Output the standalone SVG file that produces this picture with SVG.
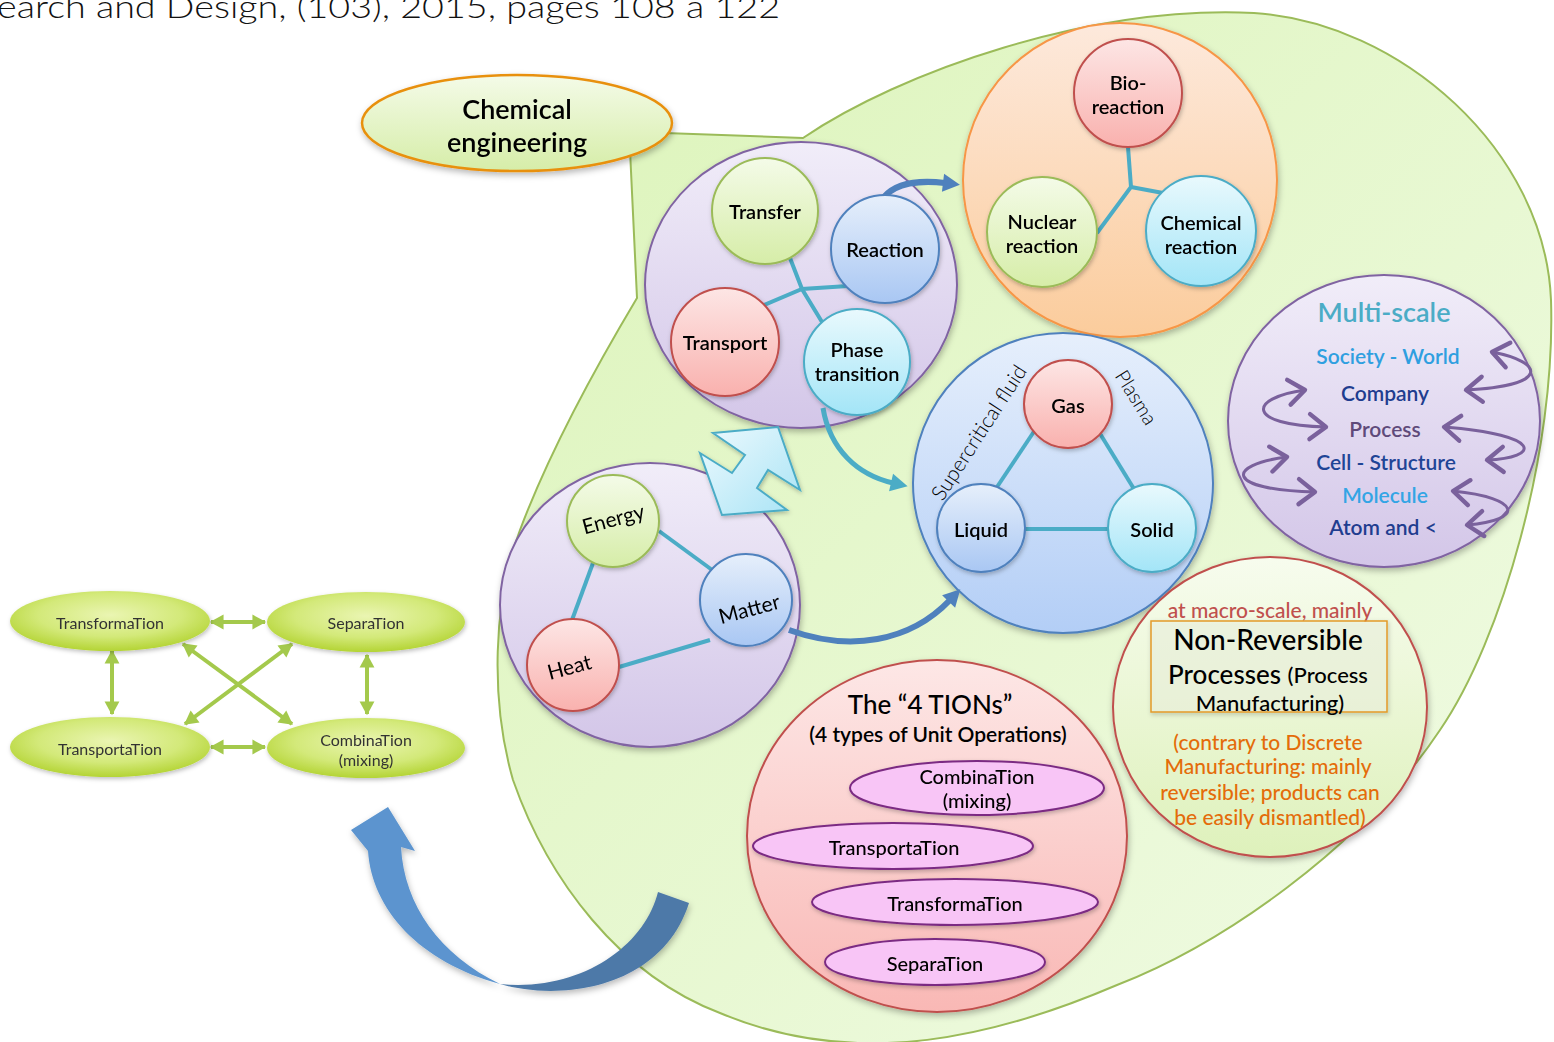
<svg xmlns="http://www.w3.org/2000/svg" width="1554" height="1042" viewBox="0 0 1554 1042">
  <defs>
    <style>
      .t { font-family: Lato, "Noto Sans", "Liberation Sans", sans-serif; text-anchor: middle; dominant-baseline: central; fill: #000; font-weight: 600; }
      .lbl { font-size: 20px; }
      .ms { font-size: 21px; }
      .small { font-size: 16px; fill: #333; font-weight: 400; }
      .orng { font-size: 21px; fill: #e46c0a; font-weight: 500; }
      .link { fill: none; stroke: #4bacc6; stroke-width: 4; }
      .scale-arrow { fill: none; stroke: #7a619c; stroke-width: 3; marker-start: url(#chev); marker-end: url(#chev); }
      .grn-arrow { fill: none; stroke: #a4c94c; stroke-width: 4; marker-start: url(#gHead); marker-end: url(#gHead); }
      .pill { fill: #f8c5f6; stroke: #7b2c83; stroke-width: 2; }
    </style>
    <filter id="sh" x="-20%" y="-20%" width="140%" height="140%">
      <feDropShadow dx="1" dy="3" stdDeviation="3" flood-color="#000" flood-opacity="0.28"/>
    </filter>
    <filter id="shs" x="-20%" y="-20%" width="140%" height="140%">
      <feDropShadow dx="1" dy="2" stdDeviation="2" flood-color="#000" flood-opacity="0.25"/>
    </filter>
    <linearGradient id="gBlob" x1="0" y1="0" x2="1" y2="1">
      <stop offset="0" stop-color="#dcf4b9"/>
      <stop offset="1" stop-color="#f1fbe6"/>
    </linearGradient>
    <linearGradient id="gGreen" x1="0" y1="0" x2="0" y2="1">
      <stop offset="0" stop-color="#f4fbe8"/>
      <stop offset="1" stop-color="#d6eda8"/>
    </linearGradient>
    <linearGradient id="gRed" x1="0" y1="0" x2="0" y2="1">
      <stop offset="0" stop-color="#fde6e5"/>
      <stop offset="1" stop-color="#f9b1ae"/>
    </linearGradient>
    <linearGradient id="gBlue" x1="0" y1="0" x2="0" y2="1">
      <stop offset="0" stop-color="#e6effb"/>
      <stop offset="1" stop-color="#a9c7f3"/>
    </linearGradient>
    <linearGradient id="gCyan" x1="0" y1="0" x2="0" y2="1">
      <stop offset="0" stop-color="#e9f9fd"/>
      <stop offset="1" stop-color="#a3e5f7"/>
    </linearGradient>
    <linearGradient id="gPurple" x1="0" y1="0" x2="0" y2="1">
      <stop offset="0" stop-color="#f1edf9"/>
      <stop offset="1" stop-color="#d3c6e8"/>
    </linearGradient>
    <linearGradient id="gOrange" x1="0" y1="0" x2="0" y2="1">
      <stop offset="0" stop-color="#fde9dc"/>
      <stop offset="1" stop-color="#fbcc9c"/>
    </linearGradient>
    <linearGradient id="gBigBlue" x1="0" y1="0" x2="0" y2="1">
      <stop offset="0" stop-color="#e6effc"/>
      <stop offset="1" stop-color="#b3cef6"/>
    </linearGradient>
    <linearGradient id="gBigRed" x1="0" y1="0" x2="0" y2="1">
      <stop offset="0" stop-color="#fde7e6"/>
      <stop offset="1" stop-color="#f9b8b5"/>
    </linearGradient>
    <linearGradient id="gLime" x1="0" y1="0" x2="0" y2="1">
      <stop offset="0" stop-color="#f7fcee"/>
      <stop offset="1" stop-color="#def1bb"/>
    </linearGradient>
    <linearGradient id="gArrowCyan" x1="0" y1="0" x2="1" y2="1">
      <stop offset="0" stop-color="#eefafe"/>
      <stop offset="1" stop-color="#a8e3f5"/>
    </linearGradient>
    <radialGradient id="gSmall" cx="0.5" cy="0.4" r="0.6">
      <stop offset="0" stop-color="#eaf5b2"/>
      <stop offset="0.6" stop-color="#d3e979"/>
      <stop offset="1" stop-color="#b4d435"/>
    </radialGradient>
    <marker id="chev" markerUnits="userSpaceOnUse" markerWidth="30" markerHeight="30" viewBox="-16 -12 20 24" refX="0" refY="0" orient="auto-start-reverse" overflow="visible">
      <path d="M -13 -10 L 0 0 L -13 10" fill="none" stroke="#7a619c" stroke-width="3.5" stroke-linecap="round" stroke-linejoin="round"/>
    </marker>
    <marker id="gHead" markerUnits="userSpaceOnUse" markerWidth="16" markerHeight="16" viewBox="-12 -7 14 14" refX="0" refY="0" orient="auto-start-reverse" overflow="visible">
      <path d="M -11 -6.5 L 1 0 L -11 6.5 Z" fill="#a4c94c"/>
    </marker>
    <marker id="bHead" markerUnits="userSpaceOnUse" markerWidth="20" markerHeight="20" viewBox="-2 -9 20 18" refX="2" refY="0" orient="auto" overflow="visible">
      <path d="M 0 -9 L 17 0 L 0 9 Z" fill="#4f81bd"/>
    </marker>
    <marker id="cHead" markerUnits="userSpaceOnUse" markerWidth="20" markerHeight="20" viewBox="-2 -9 20 18" refX="2" refY="0" orient="auto" overflow="visible">
      <path d="M 0 -9 L 17 0 L 0 9 Z" fill="#4bacc6"/>
    </marker>
  </defs>

  <rect width="1554" height="1042" fill="#fff"/>

  <!-- citation line cut at the top edge -->
  <text x="-3" y="18" font-family="Lato, 'Noto Sans', 'Liberation Sans', sans-serif" font-size="32" font-weight="300" fill="#111" textLength="783" lengthAdjust="spacingAndGlyphs">earch and Design, (103), 2015, pages 108 a 122</text>

  <!-- large background region with callout toward the title -->
  <g id="region">
    <path d="M 803 138 C 900 72, 1090 5, 1254 13 C 1400 22, 1545 150, 1551 300 C 1556 450, 1502 640, 1440 730 C 1360 850, 1220 945, 1117 985 C 1000 1035, 860 1072, 720 1013 C 620 975, 548 880, 513 780 C 490 700, 493 600, 520 530 C 550 450, 600 360, 637 298 L 630 150 L 665 133 Z" fill="url(#gBlob)" stroke="#9bbb59" stroke-width="2"/>
  </g>

  <g id="title" filter="url(#sh)">
    <ellipse cx="517" cy="123" rx="155" ry="48" fill="url(#gGreen)" stroke="#e8900f" stroke-width="2.5"/>
    <text class="t" x="517" y="108" font-size="27">Chemical</text>
    <text class="t" x="517" y="141" font-size="27">engineering</text>
  </g>

  <!-- container circles -->
  <g id="phenomena" filter="url(#sh)">
    <ellipse cx="801" cy="285" rx="156" ry="143" fill="url(#gPurple)" stroke="#8064a2" stroke-width="2"/>
  </g>
  <g id="reactions" filter="url(#sh)">
    <circle cx="1120" cy="180" r="157" fill="url(#gOrange)" stroke="#f79646" stroke-width="2"/>
  </g>
  <g id="phases" filter="url(#sh)">
    <circle cx="1063" cy="483" r="150" fill="url(#gBigBlue)" stroke="#4f81bd" stroke-width="2"/>
  </g>
  <g id="fundamentals" filter="url(#sh)">
    <ellipse cx="650" cy="605" rx="150" ry="142" fill="url(#gPurple)" stroke="#8064a2" stroke-width="2"/>
  </g>
  <g id="multiscale" filter="url(#sh)">
    <ellipse cx="1384" cy="421" rx="156" ry="146" fill="url(#gPurple)" stroke="#8064a2" stroke-width="2"/>
  </g>
  <g id="tions" filter="url(#sh)">
    <ellipse cx="937" cy="836" rx="190" ry="176" fill="url(#gBigRed)" stroke="#c0504d" stroke-width="2"/>
  </g>
  <g id="nonreversible" filter="url(#sh)">
    <ellipse cx="1270" cy="707" rx="157" ry="150" fill="url(#gLime)" stroke="#c0504d" stroke-width="2"/>
  </g>

  <!-- connectors -->
  <g id="connectors">
    <path class="link" d="M 790 258 L 802 289 L 822 322"/>
    <path class="link" d="M 762 306 L 802 289 L 848 286"/>
    <path class="link" d="M 1128 147 L 1131 187 L 1097 233"/>
    <path class="link" d="M 1131 187 L 1163 193"/>
    <path class="link" d="M 1035 430 L 997 487"/>
    <path class="link" d="M 1099 432 L 1134 489"/>
    <path class="link" d="M 1025 529 L 1108 529"/>
    <path class="link" d="M 659 531 L 719 575"/>
    <path class="link" d="M 593 563 L 572 620"/>
    <path class="link" d="M 619 667 L 710 640"/>
    <path d="M 884 197 C 896 183, 920 180, 945 183" fill="none" stroke="#4f81bd" stroke-width="6" marker-end="url(#bHead)"/>
    <path d="M 823 408 C 830 450, 858 475, 893 483" fill="none" stroke="#4bacc6" stroke-width="5" marker-end="url(#cHead)"/>
    <path d="M 789 630 C 850 652, 910 642, 950 600" fill="none" stroke="#4f81bd" stroke-width="6" marker-end="url(#bHead)"/>
    <polygon points="713,433 778,427 800,490 768,470 757,488 787,510 722,515 700,453 732,473 745,455" fill="url(#gArrowCyan)" stroke="#4bacc6" stroke-width="2" stroke-linejoin="miter" filter="url(#shs)"/>
    <path class="scale-arrow" d="M 1492 352 C 1545 362, 1550 386, 1466 390"/>
    <path class="scale-arrow" d="M 1305 390 C 1248 398, 1245 425, 1326 427"/>
    <path class="scale-arrow" d="M 1444 427 C 1545 435, 1540 458, 1487 460"/>
    <path class="scale-arrow" d="M 1287 457 C 1225 465, 1225 490, 1315 492"/>
    <path class="scale-arrow" d="M 1453 491 C 1522 498, 1525 520, 1467 525"/>
    <path class="grn-arrow" d="M 211 622 L 265 622"/>
    <path class="grn-arrow" d="M 211 747 L 265 747"/>
    <path class="grn-arrow" d="M 112 651 L 112 714"/>
    <path class="grn-arrow" d="M 367 655 L 367 714"/>
    <path class="grn-arrow" d="M 183 644 L 292 724"/>
    <path class="grn-arrow" d="M 292 644 L 185 724"/>
    <g filter="url(#sh)">
      <path d="M 388 807 L 415 851 L 401 847 C 404 905, 440 955, 500 984 C 420 962, 372 910, 368 851 L 351 830 Z" fill="#5b94cf"/>
      <path d="M 500 984 C 562 1002, 662 988, 689 903 L 658 892 C 645 945, 582 992, 500 984 Z" fill="#4d79a8"/>
    </g>
  </g>

  <!-- inner nodes: transport phenomena -->
  <g id="transfer" filter="url(#shs)">
    <circle cx="765" cy="211" r="53" fill="url(#gGreen)" stroke="#9bbb59" stroke-width="2"/>
    <text class="t lbl" x="765" y="211">Transfer</text>
  </g>
  <g id="reaction" filter="url(#shs)">
    <circle cx="885" cy="249" r="54" fill="url(#gBlue)" stroke="#4f81bd" stroke-width="2"/>
    <text class="t lbl" x="885" y="249">Reaction</text>
  </g>
  <g id="transport" filter="url(#shs)">
    <circle cx="725" cy="342" r="54" fill="url(#gRed)" stroke="#c0504d" stroke-width="2"/>
    <text class="t lbl" x="725" y="342">Transport</text>
  </g>
  <g id="phase-transition" filter="url(#shs)">
    <circle cx="857" cy="362" r="53" fill="url(#gCyan)" stroke="#4bacc6" stroke-width="2"/>
    <text class="t lbl" x="857" y="349">Phase</text>
    <text class="t lbl" x="857" y="373">transition</text>
  </g>

  <!-- reaction kinds -->
  <g id="bio-reaction" filter="url(#shs)">
    <circle cx="1128" cy="93" r="54" fill="url(#gRed)" stroke="#c0504d" stroke-width="2"/>
    <text class="t lbl" x="1128" y="82">Bio-</text>
    <text class="t lbl" x="1128" y="106">reaction</text>
  </g>
  <g id="nuclear-reaction" filter="url(#shs)">
    <circle cx="1042" cy="232" r="55" fill="url(#gGreen)" stroke="#9bbb59" stroke-width="2"/>
    <text class="t lbl" x="1042" y="221">Nuclear</text>
    <text class="t lbl" x="1042" y="245">reaction</text>
  </g>
  <g id="chemical-reaction" filter="url(#shs)">
    <circle cx="1201" cy="231" r="55" fill="url(#gCyan)" stroke="#4bacc6" stroke-width="2"/>
    <text class="t lbl" x="1201" y="222">Chemical</text>
    <text class="t lbl" x="1201" y="246">reaction</text>
  </g>

  <!-- phases of matter -->
  <g id="gas" filter="url(#shs)">
    <circle cx="1068" cy="404" r="44" fill="url(#gRed)" stroke="#c0504d" stroke-width="2"/>
    <text class="t lbl" x="1068" y="405">Gas</text>
  </g>
  <g id="liquid" filter="url(#shs)">
    <circle cx="981" cy="528" r="44" fill="url(#gBlue)" stroke="#4f81bd" stroke-width="2"/>
    <text class="t lbl" x="981" y="529">Liquid</text>
  </g>
  <g id="solid" filter="url(#shs)">
    <circle cx="1152" cy="528" r="44" fill="url(#gCyan)" stroke="#4bacc6" stroke-width="2"/>
    <text class="t lbl" x="1152" y="529">Solid</text>
  </g>
  <g id="phase-labels">
    <text class="t" font-size="21" style="font-weight:300" transform="translate(978 432) rotate(-57)">Supercritical fluid</text>
    <text class="t" font-size="20" style="font-weight:300" transform="translate(1137 397) rotate(58)">Plasma</text>
  </g>

  <!-- energy / matter / heat -->
  <g id="energy" filter="url(#shs)">
    <circle cx="613" cy="521" r="46" fill="url(#gGreen)" stroke="#9bbb59" stroke-width="2"/>
    <text class="t" font-size="21" style="font-weight:400" transform="translate(613 518) rotate(-15)">Energy</text>
  </g>
  <g id="matter" filter="url(#shs)">
    <circle cx="746" cy="600" r="46" fill="url(#gBlue)" stroke="#4f81bd" stroke-width="2"/>
    <text class="t" font-size="21" style="font-weight:400" transform="translate(749 608) rotate(-15)">Matter</text>
  </g>
  <g id="heat" filter="url(#shs)">
    <circle cx="573" cy="665" r="46" fill="url(#gRed)" stroke="#c0504d" stroke-width="2"/>
    <text class="t" font-size="21" style="font-weight:400" transform="translate(569 666) rotate(-15)">Heat</text>
  </g>

  <!-- scales -->
  <g id="scale-labels">
    <text class="t" x="1384" y="311" font-size="27" style="fill:#4bacc6">Multi-scale</text>
    <text class="t ms" x="1388" y="355" style="fill:#2f9fe0">Society - World</text>
    <text class="t ms" x="1385" y="392" style="fill:#1f3d8f">Company</text>
    <text class="t ms" x="1385" y="428" style="fill:#5f4a7a">Process</text>
    <text class="t ms" x="1386" y="461" style="fill:#1f4596">Cell - Structure</text>
    <text class="t ms" x="1385" y="494" style="fill:#33a5e5">Molecule</text>
    <text class="t ms" x="1383" y="526" style="fill:#1f3d8f">Atom and &lt;</text>
  </g>

  <!-- process manufacturing note -->
  <g id="process-note">
    <text class="t" x="1270" y="609" font-size="21" style="fill:#c0504d;font-weight:500">at macro-scale, mainly</text>
    <rect x="1151" y="621" width="236" height="91" fill="#f3fae6" fill-opacity="0.5" stroke="#e39a2a" stroke-width="1.5" filter="url(#shs)"/>
    <text class="t" x="1268" y="639" font-size="28" style="font-weight:500">Non-Reversible</text>
    <text class="t" x="1268" y="674" style="font-weight:500"><tspan font-size="26">Processes </tspan><tspan font-size="22">(Process</tspan></text>
    <text class="t" x="1270" y="702" font-size="22" style="font-weight:500">Manufacturing)</text>
    <text class="t orng" x="1268" y="741">(contrary to Discrete</text>
    <text class="t orng" x="1268" y="765">Manufacturing: mainly</text>
    <text class="t orng" x="1270" y="791">reversible; products can</text>
    <text class="t orng" x="1270" y="816">be easily dismantled)</text>
  </g>

  <!-- unit operations -->
  <g id="tions-title">
    <text class="t" x="930" y="704" font-size="26" style="font-weight:500">The “4 TIONs”</text>
    <text class="t" x="938" y="733" font-size="21">(4 types of Unit Operations)</text>
  </g>
  <g id="op-combination" filter="url(#shs)">
    <ellipse class="pill" cx="977" cy="788" rx="127" ry="27"/>
    <text class="t" x="977" y="776" font-size="20" style="font-weight:500">CombinaTion</text>
    <text class="t" x="977" y="800" font-size="20" style="font-weight:500">(mixing)</text>
  </g>
  <g id="op-transportation" filter="url(#shs)">
    <ellipse class="pill" cx="893" cy="846" rx="140" ry="23"/>
    <text class="t" x="894" y="847" font-size="20" style="font-weight:500">TransportaTion</text>
  </g>
  <g id="op-transformation" filter="url(#shs)">
    <ellipse class="pill" cx="955" cy="902" rx="143" ry="23"/>
    <text class="t" x="955" y="903" font-size="20" style="font-weight:500">TransformaTion</text>
  </g>
  <g id="op-separation" filter="url(#shs)">
    <ellipse class="pill" cx="935" cy="962" rx="110" ry="23"/>
    <text class="t" x="935" y="963" font-size="20" style="font-weight:500">SeparaTion</text>
  </g>

  <!-- small four-operation scheme -->
  <g id="s-transformation" filter="url(#shs)">
    <ellipse cx="110" cy="621" rx="100" ry="30" fill="url(#gSmall)"/>
    <text class="t small" x="110" y="622">TransformaTion</text>
  </g>
  <g id="s-separation" filter="url(#shs)">
    <ellipse cx="366" cy="622" rx="99" ry="30" fill="url(#gSmall)"/>
    <text class="t small" x="366" y="622">SeparaTion</text>
  </g>
  <g id="s-transportation" filter="url(#shs)">
    <ellipse cx="110" cy="747" rx="100" ry="30" fill="url(#gSmall)"/>
    <text class="t small" x="110" y="748">TransportaTion</text>
  </g>
  <g id="s-combination" filter="url(#shs)">
    <ellipse cx="366" cy="748" rx="99" ry="30" fill="url(#gSmall)"/>
    <text class="t small" x="366" y="739">CombinaTion</text>
    <text class="t small" x="366" y="759">(mixing)</text>
  </g>
</svg>
